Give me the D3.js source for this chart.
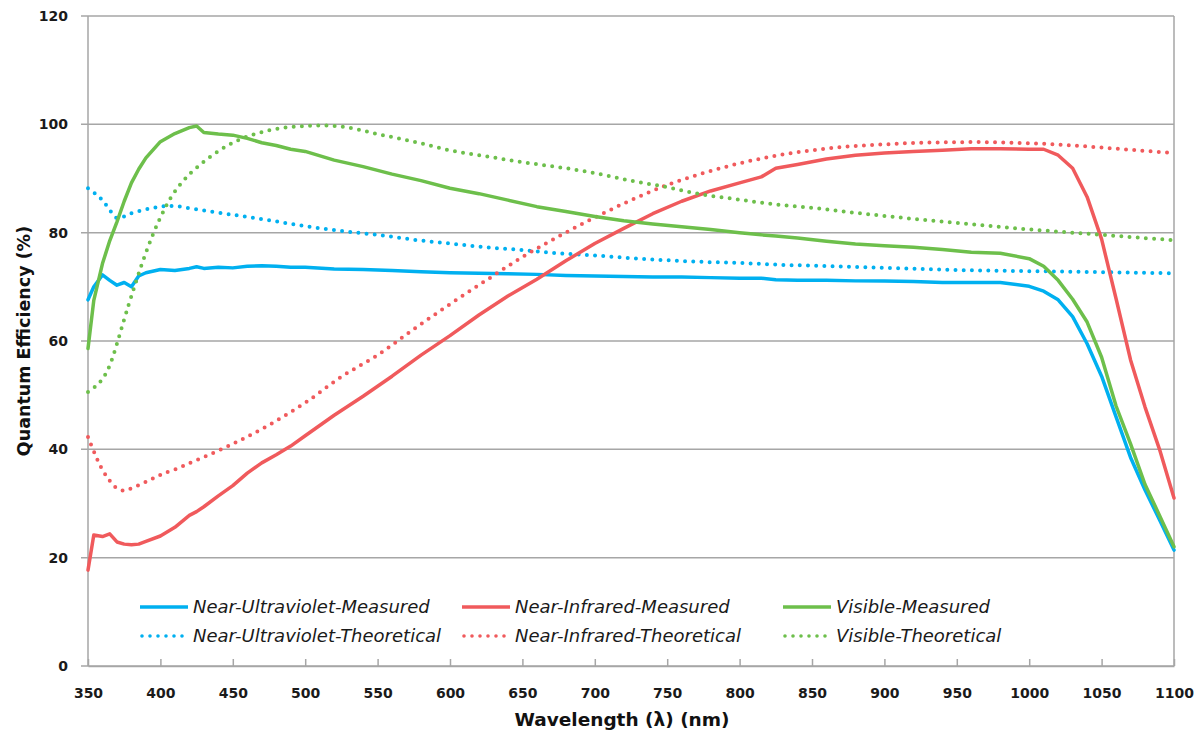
<!DOCTYPE html>
<html>
<head>
<meta charset="utf-8">
<script src="https://cdn.jsdelivr.net/npm/d3@7"></script>
<style>
  body { margin: 0; background: #fff; }
  svg { display: block; }
</style>
</head>
<body>
<svg width="1201" height="732"></svg>
<script>
// Wavelengths (nm) for the measured curves
const wlMeasured = [350, 354, 360, 365, 370, 375, 380, 385, 390, 400, 410, 420, 425, 430, 440, 450, 460, 470, 480, 490,
    500, 520, 540, 560, 580, 600, 620, 640, 660, 680, 700, 720, 740, 760, 780, 800, 815, 825, 840, 860,
    880, 900, 920, 940, 960, 980, 1000, 1010, 1020, 1030, 1040, 1050, 1060, 1070, 1080, 1090, 1100];

const nuvMeasured = [67.6, 70.0, 72.2, 71.2, 70.3, 70.8, 70.0, 72.0, 72.6, 73.2, 73.0, 73.4, 73.7, 73.4, 73.6, 73.5, 73.8, 73.9, 73.8, 73.6,
    73.6, 73.3, 73.2, 73.0, 72.8, 72.6, 72.5, 72.4, 72.3, 72.1, 72.0, 71.9, 71.8, 71.8, 71.7, 71.6, 71.6, 71.3, 71.2, 71.2,
    71.1, 71.1, 71.0, 70.8, 70.8, 70.8, 70.1, 69.2, 67.6, 64.5, 59.5, 53.5, 46.0, 38.5, 32.5, 27.0, 21.4];

const nirMeasured = [17.7, 24.2, 23.9, 24.4, 22.9, 22.5, 22.4, 22.5, 23.0, 24.0, 25.6, 27.8, 28.5, 29.4, 31.4, 33.3, 35.6, 37.5, 39.0, 40.6,
    42.5, 46.3, 49.8, 53.5, 57.4, 61.0, 64.8, 68.3, 71.4, 74.8, 78.0, 80.8, 83.5, 85.8, 87.7, 89.2, 90.3, 91.9, 92.6, 93.6,
    94.3, 94.7, 95.0, 95.2, 95.5, 95.5, 95.4, 95.4, 94.3, 91.9, 86.6, 78.8, 67.8, 56.5, 47.8, 40.0, 31.0];

const visMeasured = [58.6, 67.5, 74.3, 78.5, 82.0, 85.8, 89.2, 91.7, 93.8, 96.8, 98.3, 99.4, 99.7, 98.5, 98.2, 98.0, 97.4, 96.6, 96.1, 95.4,
    95.0, 93.4, 92.2, 90.8, 89.6, 88.2, 87.2, 86.0, 84.8, 83.9, 83.0, 82.2, 81.6, 81.1, 80.6, 80.0, 79.6, 79.4, 79.0, 78.4,
    77.9, 77.6, 77.3, 76.9, 76.4, 76.2, 75.2, 73.8, 71.2, 67.7, 63.5, 57.0, 48.0, 41.0, 33.5, 27.8, 22.0];

// Wavelengths (nm) for the theoretical curves
const wlTheory = [350, 355, 360, 365, 370, 375, 380, 390, 400, 410, 425, 450, 475, 500, 525, 550, 575, 600, 625, 650,
    675, 700, 725, 750, 775, 800, 825, 850, 875, 900, 925, 950, 975, 1000, 1025, 1050, 1075, 1100];

const nuvTheory = [88.2, 87.2, 86.0, 84.2, 82.7, 83.0, 83.6, 84.3, 84.8, 84.9, 84.3, 83.3, 82.3, 81.2, 80.3, 79.6, 78.7, 78.0, 77.3, 76.8,
    76.2, 75.8, 75.3, 74.9, 74.6, 74.4, 74.1, 73.9, 73.7, 73.5, 73.3, 73.1, 73.0, 72.9, 72.8, 72.7, 72.6, 72.5];

const nirTheory = [42.3, 39.0, 36.2, 34.2, 32.8, 32.4, 32.8, 34.0, 35.3, 36.3, 38.0, 41.0, 44.5, 48.6, 53.4, 57.4, 62.2, 66.8, 71.2, 75.5,
    79.3, 82.8, 86.0, 88.8, 91.0, 92.8, 94.2, 95.2, 95.9, 96.3, 96.6, 96.7, 96.7, 96.5, 96.2, 95.7, 95.2, 94.7];

const visTheory = [50.6, 51.6, 53.0, 55.5, 59.5, 64.0, 68.3, 76.3, 82.8, 87.6, 92.0, 96.6, 98.9, 99.7, 99.6, 98.2, 96.8, 95.2, 94.1, 93.0,
    92.1, 91.0, 89.6, 88.4, 87.0, 86.1, 85.2, 84.6, 83.8, 83.1, 82.4, 81.8, 81.2, 80.6, 80.1, 79.6, 79.1, 78.6];

// Axis ticks
const xTicks = [350, 400, 450, 500, 550, 600, 650, 700, 750, 800, 850, 900, 950, 1000, 1050, 1100];
const yTicks = [0, 20, 40, 60, 80, 100, 120];

// Series definitions (drawing order)
const series = [
    { name: "Near-Ultraviolet-Measured", wl: wlMeasured, values: nuvMeasured, color: "#00b0f0", dotted: false },
    { name: "Near-Ultraviolet-Theoretical", wl: wlTheory, values: nuvTheory, color: "#00b0f0", dotted: true },
    { name: "Near-Infrared-Measured", wl: wlMeasured, values: nirMeasured, color: "#f05a5c", dotted: false },
    { name: "Near-Infrared-Theoretical", wl: wlTheory, values: nirTheory, color: "#f05a5c", dotted: true },
    { name: "Visible-Measured", wl: wlMeasured, values: visMeasured, color: "#6dbf4b", dotted: false },
    { name: "Visible-Theoretical", wl: wlTheory, values: visTheory, color: "#6dbf4b", dotted: true }
];

const svg = d3.select("svg");
const margin = { top: 16, right: 27, bottom: 66, left: 88 };
const width = 1201 - margin.left - margin.right;
const height = 732 - margin.top - margin.bottom;
const gridColor = "#a6a6a6";

const x = d3.scaleLinear().domain([350, 1100]).range([0, width]);
const y = d3.scaleLinear().domain([0, 120]).range([height, 0]);

const g = svg.append("g").attr("transform", `translate(${margin.left},${margin.top})`);

// Horizontal gridlines, extended left as outer ticks
g.append("g")
    .selectAll("line")
    .data(yTicks)
    .enter()
    .append("line")
    .attr("x1", -7)
    .attr("x2", width)
    .attr("y1", d => y(d))
    .attr("y2", d => y(d))
    .attr("stroke", gridColor)
    .attr("stroke-width", 1.5);

// Left axis line and right border
g.append("line")
    .attr("x1", 0).attr("x2", 0)
    .attr("y1", 0).attr("y2", height)
    .attr("stroke", gridColor).attr("stroke-width", 1.5);
g.append("line")
    .attr("x1", width).attr("x2", width)
    .attr("y1", 0).attr("y2", height)
    .attr("stroke", gridColor).attr("stroke-width", 1.5);

// X axis (inner ticks)
const xAxis = g.append("g")
    .attr("transform", `translate(0,${height})`)
    .call(d3.axisBottom(x).tickValues(xTicks).tickFormat(d3.format("d"))
        .tickSizeInner(-7).tickSizeOuter(0).tickPadding(22));
xAxis.select(".domain").attr("stroke", gridColor).attr("stroke-width", 1.5);
xAxis.selectAll(".tick line").attr("stroke", gridColor).attr("stroke-width", 1.5);
xAxis.selectAll("text")
    .attr("fill", "#1a1a1a")
    .style("font-family", "'DejaVu Sans', sans-serif")
    .style("font-weight", "bold")
    .style("font-size", "14px");

// Y axis labels
const yAxis = g.append("g")
    .call(d3.axisLeft(y).tickValues(yTicks).tickSize(0).tickPadding(20));
yAxis.select(".domain").remove();
yAxis.selectAll("text")
    .attr("fill", "#1a1a1a")
    .style("font-family", "'DejaVu Sans', sans-serif")
    .style("font-weight", "bold")
    .style("font-size", "14px");

// Axis titles
svg.append("text")
    .attr("x", 622)
    .attr("y", 726)
    .attr("text-anchor", "middle")
    .style("font-family", "'DejaVu Sans', sans-serif")
    .style("font-weight", "bold")
    .style("font-size", "18.5px")
    .attr("fill", "#111")
    .text("Wavelength (λ) (nm)");

svg.append("text")
    .attr("transform", `translate(30,${margin.top + height / 2}) rotate(-90)`)
    .attr("text-anchor", "middle")
    .style("font-family", "'DejaVu Sans', sans-serif")
    .style("font-weight", "bold")
    .style("font-size", "17.5px")
    .attr("fill", "#111")
    .text("Quantum Efficiency (%)");

// Line generators
const lineMeasured = d3.line()
    .x(d => x(d[0]))
    .y(d => y(d[1]));
const lineTheory = d3.line()
    .curve(d3.curveCatmullRom)
    .x(d => x(d[0]))
    .y(d => y(d[1]));

g.append("g")
    .selectAll("path")
    .data(series)
    .enter()
    .append("path")
    .attr("d", s => (s.dotted ? lineTheory : lineMeasured)(s.wl.map((w, i) => [w, s.values[i]])))
    .attr("fill", "none")
    .attr("stroke", s => s.color)
    .attr("stroke-width", s => s.dotted ? 4 : 3.5)
    .attr("stroke-dasharray", s => s.dotted ? "0,8.2" : null)
    .attr("stroke-linecap", "round")
    .attr("stroke-linejoin", "round");

// Legend: three columns, measured on top row, theoretical on bottom row
const legendCols = [140, 462, 783];
const legendRows = [607, 636];

const legend = svg.append("g")
    .selectAll("g")
    .data(series)
    .enter()
    .append("g")
    .attr("transform", (s, i) => `translate(${legendCols[Math.floor(i / 2)]},${legendRows[i % 2]})`);

legend.append("line")
    .attr("x1", s => s.dotted ? 2 : 0).attr("x2", 48)
    .attr("y1", 0).attr("y2", 0)
    .attr("stroke", s => s.color)
    .attr("stroke-width", s => s.dotted ? 3.6 : 3.5)
    .attr("stroke-dasharray", s => s.dotted ? "0,8" : null)
    .attr("stroke-linecap", s => s.dotted ? "round" : "butt");

legend.append("text")
    .attr("x", 53)
    .attr("y", 0)
    .attr("dy", "0.35em")
    .style("font-family", "'DejaVu Sans', sans-serif")
    .style("font-style", "oblique")
    .style("font-size", "18px")
    .attr("fill", "#1a1a1a")
    .text(s => s.name);
</script>
</body>
</html>
